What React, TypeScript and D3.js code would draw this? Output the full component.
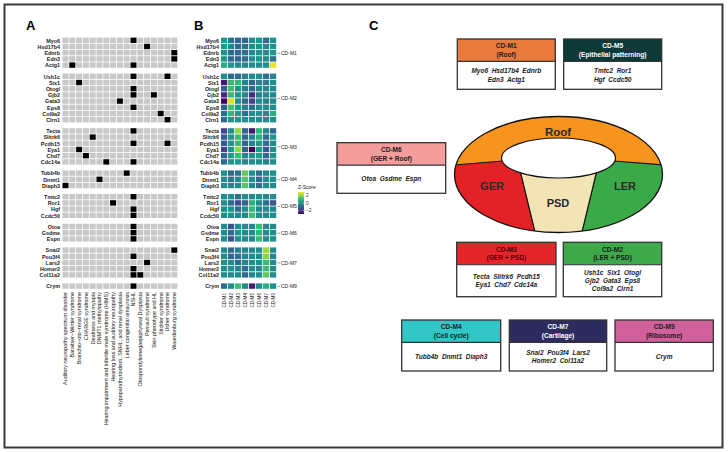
import * as d3 from "d3";

// panel A columns
const diseases = [
  "Auditory neuropathy spectrum disorder",
  "Baraitser\u2212Winter syndrome",
  "Branchio\u2212oto\u2212renal syndrome",
  "CHARGE syndrome",
  "Deafness and myopia",
  "DNMT1 methylopathy",
  "Hearing impairment and infertile male syndrome (HIMS)",
  "Hearing loss and auditory neuropathy",
  "Hypoparathyroidism, SNHL, and renal dysplasia",
  "Leber congenital amaurosis",
  "NSHL",
  "Otospondylomegaepiphyseal Dysplasia",
  "Perrault syndrome",
  "Skin phenotype and HL",
  "Stickler syndrome",
  "Usher syndrome",
  "Waardenburg syndrome",
];

const modules = ["CD-M1", "CD-M2", "CD-M3", "CD-M4", "CD-M5", "CD-M6", "CD-M7", "CD-M9"];

const m1Genes = ["Myo6", "Hsd17b4", "Ednrb", "Edn3", "Actg1"];
const m2Genes = ["Ush1c", "Six1", "Otogl", "Gjb2", "Gata3", "Eps8", "Col9a2", "Clrn1"];
const m3Genes = ["Tecta", "Slitrk6", "Pcdh15", "Eya1", "Chd7", "Cdc14a"];
const m4Genes = ["Tubb4b", "Dnmt1", "Diaph3"];
const m5Genes = ["Tmtc2", "Ror1", "Hgf", "Ccdc50"];
const m6Genes = ["Otoa", "Gsdme", "Espn"];
const m7Genes = ["Snai2", "Pou3f4", "Lars2", "Homer2", "Col11a2"];
const m9Genes = ["Crym"];
const geneGroups = [m1Genes, m2Genes, m3Genes, m4Genes, m5Genes, m6Genes, m7Genes, m9Genes];

// gene -> disease hits (panel A black cells)
const diseaseLinks: [string, string][] = [
  ["Myo6", "NSHL"],
  ["Hsd17b4", "Perrault syndrome"],
  ["Ednrb", "Waardenburg syndrome"],
  ["Edn3", "Waardenburg syndrome"],
  ["Actg1", "Baraitser\u2212Winter syndrome"],
  ["Actg1", "NSHL"],
  ["Ush1c", "NSHL"],
  ["Ush1c", "Usher syndrome"],
  ["Six1", "Branchio\u2212oto\u2212renal syndrome"],
  ["Otogl", "NSHL"],
  ["Gjb2", "NSHL"],
  ["Gjb2", "Skin phenotype and HL"],
  ["Gata3", "Hypoparathyroidism, SNHL, and renal dysplasia"],
  ["Eps8", "NSHL"],
  ["Col9a2", "Stickler syndrome"],
  ["Clrn1", "Usher syndrome"],
  ["Tecta", "NSHL"],
  ["Slitrk6", "Deafness and myopia"],
  ["Pcdh15", "NSHL"],
  ["Pcdh15", "Usher syndrome"],
  ["Eya1", "Branchio\u2212oto\u2212renal syndrome"],
  ["Chd7", "CHARGE syndrome"],
  ["Cdc14a", "Hearing impairment and infertile male syndrome (HIMS)"],
  ["Cdc14a", "NSHL"],
  ["Tubb4b", "Leber congenital amaurosis"],
  ["Dnmt1", "DNMT1 methylopathy"],
  ["Diaph3", "Auditory neuropathy spectrum disorder"],
  ["Tmtc2", "NSHL"],
  ["Ror1", "Hearing loss and auditory neuropathy"],
  ["Hgf", "NSHL"],
  ["Ccdc50", "NSHL"],
  ["Otoa", "NSHL"],
  ["Gsdme", "NSHL"],
  ["Espn", "NSHL"],
  ["Snai2", "Waardenburg syndrome"],
  ["Pou3f4", "NSHL"],
  ["Lars2", "Perrault syndrome"],
  ["Homer2", "NSHL"],
  ["Col11a2", "NSHL"],
  ["Col11a2", "Otospondylomegaepiphyseal Dysplasia"],
  ["Crym", "NSHL"],
];

// panel B z-scores, rows follow the gene arrays, columns follow modules
const m1Z = [
  [0.3, -0.8, -1.0, -0.9, 0.0, 0.2, -0.8, 0.1],
  [0.2, -0.3, -0.9, -0.7, 0.0, 0.1, -0.2, 0.1],
  [0.1, -0.9, -1.0, -0.8, -0.2, 0.1, -0.1, 0.2],
  [0.2, -1.0, -1.1, -0.9, -0.1, 0.1, 0.0, -0.8],
  [0.8, 0.1, 0.0, -0.2, 0.0, -0.1, 0.1, 2.9],
];
const m2Z = [
  [0.0, -0.9, -0.9, -0.4, -0.2, 0.0, -0.8, -0.2],
  [-2.6, 1.1, 1.0, -0.3, -1.0, -0.2, -0.3, 0.0],
  [-1.2, 1.2, 0.1, -0.4, -0.9, -0.1, -0.2, 0.0],
  [-2.3, 1.1, 0.2, -0.2, -2.2, -0.3, -0.1, -0.2],
  [-3.0, 2.8, 0.0, -1.0, -1.8, 0.0, -0.4, -0.1],
  [-1.1, 1.3, 0.2, -0.3, -0.8, 0.0, 0.0, 0.0],
  [-0.8, 1.0, 0.3, -0.9, 0.0, 0.2, -0.1, 0.9],
  [-0.9, 0.2, 0.1, 0.0, -0.1, 0.0, 0.0, 0.1],
];
const m3Z = [
  [-1.7, 0.0, 2.1, -1.0, -2.6, 1.0, 0.0, -1.0],
  [-1.2, 0.1, 1.2, -0.9, -0.2, 0.9, -1.0, 0.2],
  [-1.3, 0.2, 1.1, -1.0, -0.3, 0.3, -0.9, 0.0],
  [-1.8, 0.2, 2.1, -1.1, -3.0, 0.3, -1.3, 0.0],
  [-1.0, 0.4, 1.2, -0.2, 0.0, 0.4, -0.9, 0.1],
  [-0.9, 0.1, 0.3, -0.2, -0.1, 0.0, -0.4, 0.0],
];
const m4Z = [
  [0.0, -0.9, -0.8, 1.6, 0.0, -0.8, -0.2, 0.0],
  [-0.1, -0.8, -0.2, 1.4, 0.0, -0.9, 0.0, 0.1],
  [0.0, -0.3, -0.1, 1.5, -0.1, -0.8, 0.0, 0.0],
];
const m5Z = [
  [-0.2, -0.1, -0.8, 0.0, -0.1, 0.1, -0.2, -0.1],
  [0.0, -0.9, -1.6, -1.0, 0.9, 0.0, -0.9, -1.4],
  [-0.1, 0.1, -0.9, 0.0, 1.0, -0.2, 0.0, -0.2],
  [0.0, -0.1, 0.0, -0.2, 1.2, 0.0, -0.1, 0.0],
];
const m6Z = [
  [0.0, -1.4, 0.0, -0.2, -0.1, 1.2, 0.0, -0.1],
  [-0.1, -0.9, 0.1, -0.1, 0.0, 1.0, -0.1, 0.0],
  [0.0, -1.5, -0.1, 0.0, -0.2, 1.1, 0.0, 0.1],
];
const m7Z = [
  [-0.2, -0.9, -0.3, -0.2, -0.1, 0.0, 2.2, 0.0],
  [-0.1, -1.0, -0.8, -0.2, 0.0, -0.1, 2.0, -0.2],
  [0.0, -0.2, -0.9, -0.3, -0.1, 0.0, 1.1, 0.0],
  [-0.1, 0.0, -0.2, -0.9, 0.0, -0.2, 1.2, -0.1],
  [0.0, -0.1, -0.1, -0.9, -0.2, 0.0, 1.6, 0.0],
];
const m9Z = [[-0.9, 0.0, 1.2, -0.1, -2.5, 0.0, 0.9, 0.0]];
const zGroups = [m1Z, m2Z, m3Z, m4Z, m5Z, m6Z, m7Z, m9Z];
const legendTicks = [2, 0, -2];

// panel C module boxes
const boxTitles = ["CD-M1", "CD-M5", "CD-M6", "CD-M3", "CD-M2", "CD-M4", "CD-M7", "CD-M9"];
const boxSubtitles = ["(Roof)", "(Epithelial patterning)", "(GER + Roof)", "(GER + PSD)", "(LER + PSD)", "(Cell cycle)", "(Cartilage)", "(Ribosome)"];
const boxGenes = [
  ["Myo6  Hsd17b4  Ednrb", "Edn3  Actg1"],
  ["Tmtc2  Ror1", "Hgf  Ccdc50"],
  ["Otoa  Gsdme  Espn"],
  ["Tecta  Slitrk6  Pcdh15", "Eya1  Chd7  Cdc14a"],
  ["Ush1c  Six1  Otogl", "Gjb2  Gata3  Eps8", "Col9a2  Clrn1"],
  ["Tubb4b  Dnmt1  Diaph3"],
  ["Snai2  Pou3f4  Lars2", "Homer2  Col11a2"],
  ["Crym"],
];
const boxColors = ["#ea7a3c", "#0d3a38", "#f59d9c", "#e42529", "#3ea84b", "#33c6c6", "#2d2c60", "#d1619b"];
const boxText = ["#1b1b1b", "#ffffff", "#1b1b1b", "#3a0a0a", "#1b1b1b", "#1b1b1b", "#ffffff", "#1b1b1b"];
// layout: [x, y, w, h]
const boxFrames: number[][] = [
  [457.3, 39, 98, 50.3],
  [563.7, 39, 98, 50.3],
  [337, 142.7, 108.7, 50.6],
  [456.7, 242.3, 99.3, 54.4],
  [563.3, 242.3, 98.4, 54.4],
  [401.7, 320, 99, 51],
  [509.3, 320, 97.4, 51],
  [615, 320, 98.3, 51],
];

const FONT = "'Liberation Sans', Arial, Helvetica, sans-serif";

const App = () => {
  const W = 728,
    H = 452;
  const rowH = 6.2,
    gap = 5.0,
    top = 37.6;
  const genes = geneGroups.flat();
  const groupOf = new Map<string, number>();
  geneGroups.forEach((g, gi) => g.forEach((n) => groupOf.set(n, gi)));

  const yBand = d3
    .scaleBand<string>()
    .domain(genes)
    .range([top, top + genes.length * rowH]);
  const y = (g: string) => (yBand(g) as number) + (groupOf.get(g) as number) * gap;

  const xA = d3.scaleBand<string>().domain(diseases).range([62.5, 178.1]);
  const xB = d3.scaleBand<string>().domain(modules).range([221, 277]);
  const color = d3.scaleSequential(d3.interpolateViridis).domain([-3, 3.1]);
  const legendY = d3.scaleLinear().domain([-2.9, 3.0]).range([214, 192]);

  const linked = new Set(diseaseLinks.map(([g, d]) => g + "|" + d));
  const zRows = zGroups.flat();

  // donut geometry
  const cx = 558.5,
    cy = 174.5,
    orx = 104,
    ory = 58;
  const icx = 558.5,
    icy = 158,
    irx = 57,
    iry = 20;

  return (
    <svg
      width={W}
      height={H}
      style={{ position: "absolute", left: 0, top: 0, background: "#fff" }}
      fontFamily={FONT}
    >
      <defs>
        <clipPath id="outerClip">
          <ellipse cx={cx} cy={cy} rx={orx} ry={ory} />
        </clipPath>
        <linearGradient id="zgrad" x1="0" y1="1" x2="0" y2="0">
          {d3.range(0, 1.0001, 0.1).map((t) => (
            <stop
              key={t}
              offset={`${t * 100}%`}
              stopColor={color(legendY.domain()[0] + t * (legendY.domain()[1] - legendY.domain()[0]))}
            />
          ))}
        </linearGradient>
      </defs>
      <rect x={4.5} y={4.5} width={718} height={443} fill="none" stroke="#3a3a3a" strokeWidth={2} />

      {/* panel letters */}
      <text x={26} y={30} fontSize={13} fontWeight="bold">A</text>
      <text x={194} y={30} fontSize={13} fontWeight="bold">B</text>
      <text x={369} y={30} fontSize={13} fontWeight="bold">C</text>

      {/* Panel A */}
      <g>
        {genes.map((g) => (
          <g key={g}>
            <text
              x={60}
              y={y(g) + rowH / 2}
              dy="0.35em"
              textAnchor="end"
              fontSize={5.4}
              fontWeight="bold"
              fill="#222"
            >
              {g}
            </text>
            {diseases.map((d) => (
              <rect
                key={d}
                x={xA(d) as number}
                y={y(g)}
                width={xA.bandwidth() - 0.8}
                height={rowH - 0.8}
                fill={linked.has(g + "|" + d) ? "#000" : "#c8c8c8"}
              />
            ))}
          </g>
        ))}
        {diseases.map((d) => (
          <text
            key={d}
            transform={`translate(${(xA(d) as number) + xA.bandwidth() / 2 - 0.4},292) rotate(-90)`}
            dy="0.35em"
            textAnchor="end"
            fontSize={5.4}
            fill="#222"
          >
            {d}
          </text>
        ))}
      </g>

      {/* Panel B */}
      <g>
        {genes.map((g, i) => (
          <g key={g}>
            <text
              x={219}
              y={y(g) + rowH / 2}
              dy="0.35em"
              textAnchor="end"
              fontSize={5.4}
              fontWeight="bold"
              fill="#222"
            >
              {g}
            </text>
            {modules.map((m, j) => (
              <rect
                key={m}
                x={xB(m) as number}
                y={y(g)}
                width={xB.bandwidth() - 0.8}
                height={rowH - 0.8}
                fill={color(zRows[i][j])}
              />
            ))}
          </g>
        ))}
        {geneGroups.map((grp, gi) => {
          const yc = (y(grp[0]) + y(grp[grp.length - 1]) + rowH) / 2;
          return (
            <g key={gi}>
              <line x1={277.3} x2={280.3} y1={yc} y2={yc} stroke="#444" strokeWidth={0.5} />
              <text x={281} y={yc} dy="0.35em" fontSize={5} fill="#222">
                {modules[gi]}
              </text>
            </g>
          );
        })}
        {modules.map((m) => (
          <text
            key={m}
            transform={`translate(${(xB(m) as number) + xB.bandwidth() / 2 - 0.4},293) rotate(-90)`}
            dy="0.35em"
            textAnchor="end"
            fontSize={4.6}
            fill="#222"
          >
            {m}
          </text>
        ))}
        {/* legend */}
        <text x={298} y={189} fontSize={5} fill="#222">Z-Score</text>
        <rect x={298} y={legendY.range()[1]} width={6} height={legendY.range()[0] - legendY.range()[1]} fill="url(#zgrad)" />
        {legendTicks.map((t) => (
          <g key={t}>
            <line x1={298} x2={299.3} y1={legendY(t)} y2={legendY(t)} stroke="#fff" strokeWidth={0.5} />
            <line x1={302.7} x2={304} y1={legendY(t)} y2={legendY(t)} stroke="#fff" strokeWidth={0.5} />
            <text x={306} y={legendY(t)} dy="0.35em" fontSize={4.8} fill="#333">
              {t < 0 ? "\u2212" + Math.abs(t) : t}
            </text>
          </g>
        ))}
      </g>

      {/* Panel C donut */}
      <g>
        <g clipPath="url(#outerClip)">
          <rect x={cx - orx} y={cy - ory} width={orx * 2} height={ory * 2} fill="#f7941e" />
          <polygon
            points="430,167 503,161 520,170 537,240 430,240"
            fill="#e32227"
            stroke="#111"
            strokeWidth={1.1}
          />
          <polygon
            points="690,167 614,161 597,170 580,240 690,240"
            fill="#3aaa48"
            stroke="#111"
            strokeWidth={1.1}
          />
          <polygon points="520,170 597,170 580,240 537,240" fill="#f3e4b6" stroke="#111" strokeWidth={1.1} />
        </g>
        <ellipse cx={icx} cy={icy} rx={irx} ry={iry} fill="#fff" stroke="#111" strokeWidth={1.2} />
        <ellipse cx={cx} cy={cy} rx={orx} ry={ory} fill="none" stroke="#111" strokeWidth={1.3} />
        <text x={558} y={132} dy="0.35em" textAnchor="middle" fontSize={11.5} fontWeight="bold" fill="#2a2a2a">Roof</text>
        <text x={492} y={186} dy="0.35em" textAnchor="middle" fontSize={11} fontWeight="bold" fill="#2a2a2a">GER</text>
        <text x={625} y={186} dy="0.35em" textAnchor="middle" fontSize={11} fontWeight="bold" fill="#2a2a2a">LER</text>
        <text x={558} y={203} dy="0.35em" textAnchor="middle" fontSize={11} fontWeight="bold" fill="#2a2a2a">PSD</text>
      </g>

      {/* Panel C boxes */}
      {boxFrames.map(([bx, by, bw, bh], i) => {
        const hh = 22.4;
        const lines = boxGenes[i];
        const bodyC = by + hh + (bh - hh) / 2;
        const step = lines.length > 2 ? 7.6 : 8.4;
        return (
          <g key={i}>
            <rect x={bx} y={by} width={bw} height={bh} fill="#fff" />
            <rect x={bx} y={by} width={bw} height={hh} fill={boxColors[i]} />
            <rect x={bx} y={by} width={bw} height={bh} fill="none" stroke="#333" strokeWidth={1.3} />
            <line x1={bx} x2={bx + bw} y1={by + hh} y2={by + hh} stroke="#333" strokeWidth={1.1} />
            <text x={bx + bw / 2} y={by + hh / 2 - 4.2} dy="0.35em" textAnchor="middle" fontSize={6.6} fontWeight="bold" fill={boxText[i]}>
              {boxTitles[i]}
            </text>
            <text x={bx + bw / 2} y={by + hh / 2 + 4.4} dy="0.35em" textAnchor="middle" fontSize={6.6} fontWeight="bold" fill={boxText[i]}>
              {boxSubtitles[i]}
            </text>
            {lines.map((l, k) => (
              <text
                key={k}
                x={bx + bw / 2}
                y={bodyC + (k - (lines.length - 1) / 2) * step}
                dy="0.35em"
                textAnchor="middle"
                fontSize={6.5}
                fontWeight="bold"
                fontStyle="italic"
                fill="#1b1b1b"
                style={{ whiteSpace: "pre" }}
              >
                {l}
              </text>
            ))}
          </g>
        );
      })}
    </svg>
  );
};

export default App;
